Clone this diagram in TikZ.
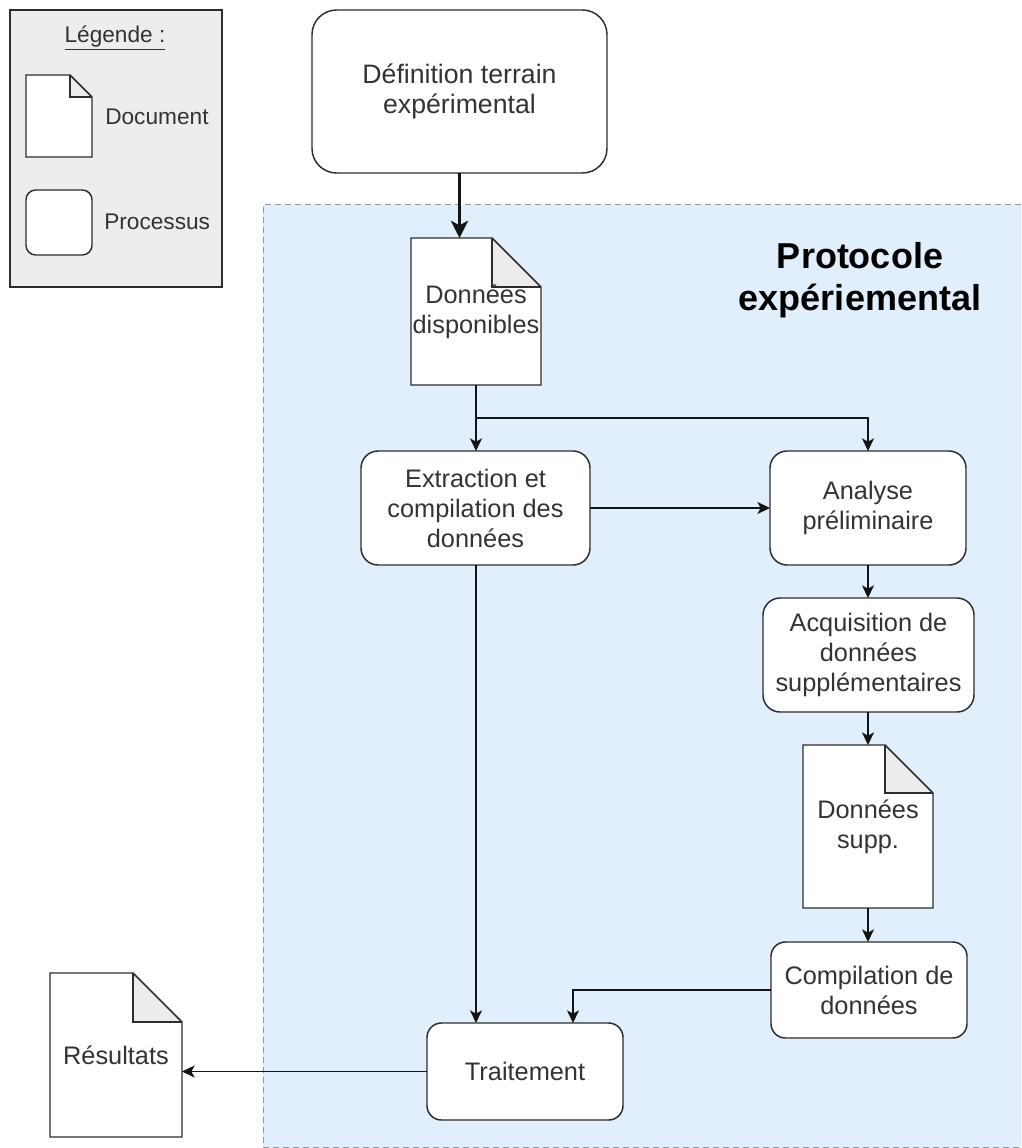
\documentclass[tikz,border=0pt]{standalone}
\usepackage{fontspec}
\setmainfont{Liberation Sans}
\usetikzlibrary{arrows.meta}

\pgfdeclarelayer{back}
\pgfdeclarelayer{mid}
\pgfsetlayers{back,mid,main}

\definecolor{zoneblue}{RGB}{225,238,251}
\definecolor{zoneedge}{RGB}{150,150,150}
\definecolor{legendgray}{RGB}{237,237,237}
\definecolor{foldgray}{RGB}{236,236,236}
\definecolor{edgec}{RGB}{45,45,45}
\definecolor{linec}{RGB}{20,20,20}
\definecolor{txtc}{RGB}{51,51,51}

% Document outline with a folded top-right corner: #1 node name, #2 fold size
\newcommand\docoutline[2]{%
  \begin{pgfonlayer}{mid}
    \fill[white] (#1.north west) -- ([xshift=-#2]#1.north east)
      -- ([yshift=-#2]#1.north east) -- (#1.south east) -- (#1.south west) -- cycle;
    \fill[foldgray] ([xshift=-#2]#1.north east) -- ([xshift=-#2,yshift=-#2]#1.north east)
      -- ([yshift=-#2]#1.north east) -- cycle;
    \draw[docline] (#1.north west) -- ([xshift=-#2]#1.north east)
      -- ([yshift=-#2]#1.north east) -- (#1.south east) -- (#1.south west) -- cycle;
    \draw[docline] ([xshift=-#2]#1.north east) -- ([xshift=-#2,yshift=-#2]#1.north east)
      -- ([yshift=-#2]#1.north east);
  \end{pgfonlayer}}

\tikzset{
  sz/.style 2 args={minimum width=#1*0.75pt, minimum height=#2*0.75pt},
  bodyfont/.style={font=\fontsize{19}{22.5}\selectfont, text=txtc},
  proc/.style={draw=edgec, line width=1.1pt, fill=white, rounded corners=#1,
    align=center, inner sep=0pt, outer sep=0pt, bodyfont},
  proc/.default=12.8pt,
  docnode/.style={inner sep=0pt, outer sep=0pt, align=center, bodyfont},
  docline/.style={draw=edgec, line width=1.1pt, line join=miter},
  legtxt/.style={font=\fontsize{17}{20}\selectfont, text=txtc, inner sep=0pt},
  titletxt/.style={font=\fontsize{27}{31.5}\selectfont\bfseries, text=black,
    align=center, inner sep=0pt},
  flow/.style={draw=linec, line width=1pt,
    -{Stealth[length=9.5pt, width=9pt, inset=2.5pt]}},
  bigflow/.style={draw=linec, line width=2pt,
    -{Stealth[length=13pt, width=13pt, inset=3.5pt]}},
}

\begin{document}
\begin{tikzpicture}[x=0.75pt, y=-0.75pt]
  \useasboundingbox (0,0) rectangle (1021,1148);

  % experimental protocol zone
  \begin{pgfonlayer}{back}
    \fill[zoneblue] (263,205) rectangle (1021,1148);
    \draw[zoneedge, line width=0.75pt, dash pattern=on 4.5pt off 3pt]
      (1021,205) -- (263,205) -- (263,1147) -- (1021,1147);
    % legend panel
    \fill[legendgray, draw=edgec, line width=1.1pt] (10,10) rectangle (222,287);
  \end{pgfonlayer}

  % legend
  \node[legtxt] (legtitle) at (115,38) {\underline{Légende :}};
  \node[docnode, sz={66}{82}] (legdoc) at (59,116) {};
  \docoutline{legdoc}{16.5pt}
  \node[legtxt, anchor=west] (legdoctxt) at (105,117) {Document};
  \node[proc=7.3pt, sz={66}{65}] (legproc) at (59,222.5) {};
  \node[legtxt, anchor=west] (legproctxt) at (104,222) {Processus};

  % title of the zone
  \node[titletxt] (proto) at (860,280) {Protocole\\expériemental};

  % process steps
  \node[proc=18.4pt, sz={295}{163}, font=\fontsize{20}{22.5}\selectfont]
    (def) at (459.5,91.5) {Définition terrain\\expérimental};
  \node[docnode, sz={130}{147}] (dispo) at (476,311.5) {Données\\disponibles};
  \docoutline{dispo}{36.75pt}
  \node[proc, sz={229}{114}] (extr) at (475.5,508) {Extraction et\\compilation des\\données};
  \node[proc, sz={196}{114}] (anal) at (868,508) {Analyse\\préliminaire};
  \node[proc, sz={211}{114}] (acq) at (868.5,655) {Acquisition de\\données\\supplémentaires};
  \node[docnode, sz={130}{163}] (supp) at (868,826.5) {Données\\supp.};
  \docoutline{supp}{36pt}
  \node[proc=10.8pt, sz={196}{96}] (comp) at (869,990) {Compilation de\\données};
  \node[proc=10.8pt, sz={196}{97}] (trait) at (525,1071.5) {Traitement};
  \node[docnode, sz={132}{164}] (res) at (116,1055) {Résultats};
  \docoutline{res}{36.75pt}

  % connectors
  \coordinate (split) at (476,418);
  \coordinate (traitin) at (573,1023);
  \draw[bigflow] (def.south) -- (def.south |- dispo.north);
  \draw[draw=linec, line width=1pt] (dispo.south) -- (split);
  \draw[flow] (split) -- (split |- extr.north);
  \draw[flow] (split) -| (anal.north);
  \draw[flow] (extr.east) -- (anal.west);
  \draw[flow] (anal.south) -- (anal.south |- acq.north);
  \draw[flow] (acq.south -| anal.south) -- (anal.south |- supp.north);
  \draw[flow] (supp.south) -- (supp.south |- comp.north);
  \draw[flow] (comp.west) -| (traitin);
  \draw[flow] (extr.south -| split) -- (split |- trait.north);
  \draw[flow] (trait.west) -- (trait.west -| res.east);
\end{tikzpicture}
\end{document}
